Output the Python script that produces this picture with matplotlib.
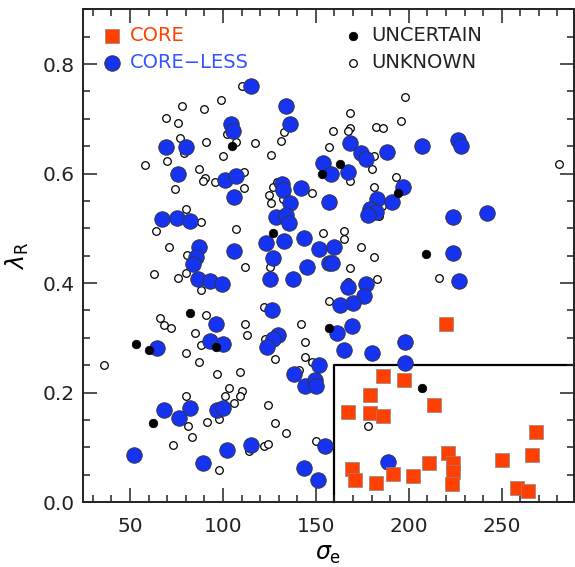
import matplotlib.pyplot as plt
from matplotlib.ticker import MultipleLocator

# CORE galaxies (sigma_e, lambda_R)
core_sigma = [220.2, 186.3, 197.3, 179.1, 213.3, 167.2, 179.2, 186.0, 268.5, 266.2,
              250.0, 221.0, 224.0, 224.0, 223.0, 211.1, 202.1, 191.3, 182.2, 169.3,
              171.1, 258.1, 264.4]
core_lam = [0.325, 0.230, 0.222, 0.195, 0.178, 0.165, 0.163, 0.157, 0.127, 0.085,
            0.077, 0.089, 0.072, 0.054, 0.033, 0.071, 0.048, 0.052, 0.035, 0.060,
            0.040, 0.025, 0.021]

# CORE-LESS galaxies
coreless_sigma = [115.1, 134.2, 104.2, 105.3, 136.1, 69.2, 80.2, 76.0, 101.2, 107.2,
                  154.1, 158.2, 132.0, 132.5, 142.0, 106.2, 136.1, 157.1, 67.1, 75.1,
                  82.3, 128.6, 134.0, 135.8, 87.0, 85.5, 84.1, 106.2, 86.5, 93.1,
                  99.4, 125.4, 137.9, 123.4, 133.1, 127.2, 143.5, 151.9, 160.0, 145.1,
                  156.8, 158.5, 168.1, 174.3, 177.0, 188.1, 207.1, 226.3, 228.3, 167.2,
                  197.1, 183.1, 191.0, 179.2, 182.2, 178.3, 224.0, 241.9, 224.0, 227.1,
                  167.2, 177.0, 176.1, 170.2, 163.0, 126.3, 96.1, 93.1, 100.3, 64.4,
                  129.5, 127.2, 123.9, 151.9, 138.1, 144.2, 149.7, 150.1, 161.3, 169.3,
                  165.4, 180.1, 198.0, 198.0, 68.3, 76.4, 82.3, 97.0, 100.3, 52.4,
                  89.3, 102.2, 115.3, 155.0, 143.5, 151.0, 189.0]
coreless_lam = [0.759, 0.724, 0.691, 0.678, 0.690, 0.648, 0.648, 0.599, 0.589, 0.595,
                0.620, 0.600, 0.581, 0.570, 0.573, 0.557, 0.547, 0.548, 0.517, 0.518,
                0.513, 0.521, 0.524, 0.510, 0.465, 0.448, 0.434, 0.459, 0.407, 0.404,
                0.398, 0.407, 0.407, 0.473, 0.476, 0.445, 0.482, 0.462, 0.466, 0.430,
                0.436, 0.437, 0.656, 0.638, 0.627, 0.639, 0.651, 0.662, 0.651, 0.603,
                0.576, 0.553, 0.548, 0.536, 0.530, 0.524, 0.520, 0.527, 0.454, 0.404,
                0.393, 0.398, 0.377, 0.363, 0.359, 0.351, 0.325, 0.295, 0.288, 0.281,
                0.305, 0.297, 0.283, 0.250, 0.233, 0.212, 0.222, 0.212, 0.309, 0.322,
                0.278, 0.273, 0.292, 0.253, 0.168, 0.153, 0.172, 0.168, 0.172, 0.086,
                0.072, 0.095, 0.105, 0.102, 0.063, 0.040, 0.073]

# UNCERTAIN galaxies
uncertain_sigma = [105.1, 127.2, 153.2, 163.0, 194.1, 209.1, 82.1, 96.1, 53.3, 60.4,
                   62.2, 156.8, 207.2]
uncertain_lam = [0.651, 0.492, 0.599, 0.618, 0.564, 0.453, 0.345, 0.283, 0.289, 0.278,
                 0.145, 0.317, 0.209]

# UNKNOWN galaxies
unknown_sigma = [110.1, 99.2, 78.2, 90.0, 69.2, 76.0, 133.1, 102.0, 77.0, 107.2,
                 91.1, 117.1, 131.1, 79.3, 100.3, 126.1, 157.3, 58.3, 70.1, 87.2,
                 90.2, 89.3, 95.9, 111.2, 127.2, 129.0, 74.3, 111.2, 80.2, 88.2,
                 64.0, 107.2, 80.9, 71.2, 63.1, 76.0, 80.3, 112.1, 125.0, 126.1,
                 132.5, 125.2, 168.1, 198.2, 196.0, 168.1, 167.2, 159.1, 182.2, 186.2,
                 181.3, 180.1, 281.0, 168.1, 148.1, 181.1, 193.2, 183.8, 185.4, 154.1,
                 165.4, 165.2, 174.2, 181.1, 168.1, 216.3, 183.1, 167.2, 88.2, 90.9,
                 122.3, 156.8, 66.2, 68.1, 72.1, 85.2, 88.1, 36.2, 80.2, 87.1,
                 112.1, 113.2, 122.7, 128.2, 142.1, 144.2, 144.2, 148.1, 141.1, 97.0,
                 109.2, 103.3, 110.3, 109.2, 101.2, 106.0, 80.2, 124.3, 81.2, 83.2,
                 73.2, 91.3, 98.1, 128.2, 134.1, 98.1, 114.1, 122.1, 124.1, 150.3,
                 178.1]
unknown_lam = [0.759, 0.735, 0.723, 0.718, 0.701, 0.692, 0.676, 0.672, 0.664, 0.658,
               0.658, 0.656, 0.660, 0.637, 0.632, 0.634, 0.648, 0.616, 0.622, 0.609,
               0.592, 0.586, 0.584, 0.603, 0.576, 0.584, 0.572, 0.574, 0.535, 0.511,
               0.495, 0.499, 0.452, 0.465, 0.416, 0.409, 0.418, 0.429, 0.560, 0.546,
               0.553, 0.430, 0.710, 0.740, 0.696, 0.684, 0.678, 0.678, 0.685, 0.683,
               0.632, 0.609, 0.617, 0.586, 0.564, 0.575, 0.593, 0.522, 0.541, 0.492,
               0.495, 0.480, 0.466, 0.447, 0.428, 0.410, 0.407, 0.402, 0.387, 0.342,
               0.357, 0.368, 0.336, 0.323, 0.317, 0.309, 0.286, 0.250, 0.273, 0.256,
               0.326, 0.305, 0.297, 0.262, 0.325, 0.292, 0.264, 0.255, 0.242, 0.233,
               0.237, 0.209, 0.203, 0.194, 0.193, 0.180, 0.193, 0.178, 0.138, 0.119,
               0.104, 0.147, 0.151, 0.145, 0.126, 0.058, 0.093, 0.103, 0.106, 0.111,
               0.139]

# selection box for slow/massive systems
box_sigma = 160
box_lam = 0.25

x_range = (24.7, 288.9)
y_range = (0.0, 0.9)

red = "#ff4000"
blue = "#1633f2"

fig = plt.figure(figsize=(5.75, 5.67), dpi=100)
ax = fig.add_axes([83 / 575, 1 - 502 / 567, 491 / 575, 492.7 / 567])

ax.plot([box_sigma, box_sigma, x_range[1]], [y_range[0], box_lam, box_lam],
        color="black", lw=1.6, zorder=1, clip_on=False)

ax.scatter(unknown_sigma, unknown_lam, s=30, facecolor="white", edgecolor="black",
           linewidth=0.9, zorder=2, label="UNKNOWN")
ax.scatter(coreless_sigma, coreless_lam, s=125, facecolor=blue, edgecolor="#333333",
           linewidth=0.6, zorder=3, label="CORE\u2212LESS")
ax.scatter(uncertain_sigma, uncertain_lam, s=38, facecolor="black", edgecolor="black",
           linewidth=0.5, zorder=4, label="UNCERTAIN")
ax.scatter(core_sigma, core_lam, s=112, marker="s", facecolor=red, edgecolor="#888888",
           linewidth=0.5, zorder=5, label="CORE")

ax.set_xlim(*x_range)
ax.set_ylim(*y_range)
ax.xaxis.set_major_locator(MultipleLocator(50))
ax.xaxis.set_minor_locator(MultipleLocator(10))
ax.yaxis.set_major_locator(MultipleLocator(0.2))
ax.yaxis.set_minor_locator(MultipleLocator(0.05))
ax.yaxis.set_major_formatter(plt.FuncFormatter(lambda v, p: f"{v:.1f}"))
ax.tick_params(which="both", direction="in", top=True, right=True, width=1.1, color="#222222")
ax.tick_params(which="major", length=10, labelsize=14.5, labelcolor="#222222")
ax.tick_params(which="minor", length=5)
ax.tick_params(axis="x", pad=11)
ax.tick_params(axis="y", pad=6)
for sp in ax.spines.values():
    sp.set_linewidth(1.4)
    sp.set_color("#222222")

ax.set_xlabel(r"$\sigma_{\rm e}$", fontsize=17, labelpad=4)
ax.set_ylabel(r"$\lambda_{\rm R}$", fontsize=17, labelpad=8)

h, lab = ax.get_legend_handles_labels()
handles = dict(zip(lab, h))
leg1 = ax.legend([handles["CORE"], handles["CORE\u2212LESS"]], ["CORE", "CORE\u2212LESS"],
                 loc="upper left", bbox_to_anchor=(0.039, 0.966), frameon=False,
                 borderpad=0, borderaxespad=0, handlelength=1.0, handletextpad=0.45,
                 labelspacing=0.4, fontsize=14, scatterpoints=1)
for t, c in zip(leg1.get_texts(), [red, "#3355ff"]):
    t.set_color(c)
ax.add_artist(leg1)
ax.legend([handles["UNCERTAIN"], handles["UNKNOWN"]], ["UNCERTAIN", "UNKNOWN"],
          loc="upper left", bbox_to_anchor=(0.530, 0.966), frameon=False,
          borderpad=0, borderaxespad=0, handlelength=1.0, handletextpad=0.45,
          labelspacing=0.4, fontsize=14, scatterpoints=1, labelcolor="#222222")

fig.savefig("out.png", dpi=100)
